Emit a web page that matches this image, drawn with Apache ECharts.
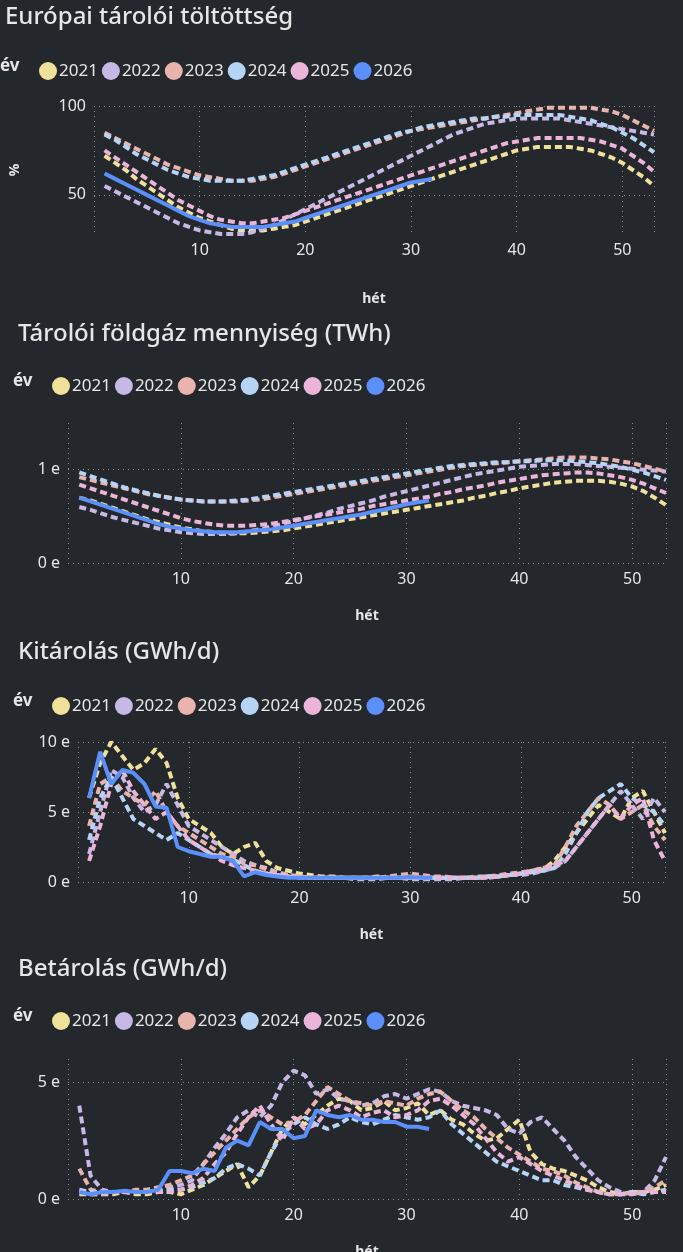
<!DOCTYPE html>
<html>
<head>
<meta charset="utf-8">
<script src="https://cdn.jsdelivr.net/npm/echarts@6/dist/echarts.min.js"></script>
<style>
  html, body { margin: 0; padding: 0; background: #24272c; overflow: hidden; }
  .box { position: absolute; left: 0; width: 683px; height: 318px; }
</style>
</head>
<body>
<div class="box" id="c1" style="top:0"></div>
<div class="box" id="c2" style="top:315px"></div>
<div class="box" id="c3" style="top:635px"></div>
<div class="box" id="c4" style="top:950px"></div>
<script>
const years = ["2021", "2022", "2023", "2024", "2025", "2026"];
const colors = ["#efe09a", "#c6b9e6", "#e8b4ad", "#b6d4f6", "#ebb5da", "#5b8ff9"];

// töltöttség %
const fill2021 = [72,68,64,59,55,51,47,43,40,37,35,33,31,30,30,30,31,32,33,35,37,39,41,43,45,47,49,51,53,55,57,59,61,63,65,67,69,71,73,75,76,77,77,77,77,76,75,73,71,68,64,60,55];
const fill2022 = [55,52,49,46,43,40,37,34,32,30,29,28,28,28,29,31,33,36,39,42,45,48,51,54,57,60,63,66,69,72,75,78,81,84,86,88,90,91,92,93,93,93,93,93,92,91,90,89,88,87,86,85,84];
const fill2023 = [85,82,79,76,73,70,67,65,63,61,60,59,58,58,58,59,60,62,64,66,68,70,72,74,76,78,80,82,84,86,87,88,89,90,91,92,93,94,95,96,97,98,99,99,99,99,99,98,97,95,92,89,86];
const fill2024 = [84,81,77,73,70,67,64,62,60,59,58,58,58,58,59,60,61,63,65,67,69,71,73,75,77,79,81,83,85,86,88,89,90,91,92,93,93,94,94,95,95,95,95,95,94,93,92,90,88,85,82,78,74];
const fill2025 = [75,71,67,63,59,55,51,47,44,41,38,36,35,34,34,35,36,37,39,41,43,45,47,49,51,53,55,57,59,61,63,65,67,69,71,73,75,77,79,80,81,82,82,82,82,82,81,80,78,76,72,68,63];
const fill2026 = [62,59,56,53,50,47,44,41,38,36,34,33,32,32,32,32,33,34,35,37,39,41,43,45,47,49,51,53,55,57,58,59];

// mennyiség (ezer TWh)
const stor2021 = [.70,.67,.63,.59,.55,.51,.47,.44,.41,.38,.36,.34,.33,.32,.32,.32,.33,.34,.35,.37,.39,.41,.43,.45,.47,.49,.51,.53,.55,.57,.59,.61,.63,.65,.67,.70,.72,.75,.77,.80,.82,.84,.86,.87,.88,.88,.88,.87,.85,.82,.77,.70,.62];
const stor2022 = [.60,.57,.53,.49,.46,.43,.40,.37,.35,.33,.32,.31,.31,.31,.32,.34,.36,.39,.42,.45,.48,.51,.54,.58,.61,.64,.67,.71,.74,.77,.80,.83,.86,.89,.92,.95,.97,.99,1.01,1.03,1.04,1.05,1.06,1.06,1.06,1.05,1.04,1.03,1.02,1.01,1.00,.99,.98];
const stor2023 = [.92,.89,.86,.83,.80,.77,.74,.72,.70,.68,.67,.66,.66,.66,.66,.67,.68,.70,.72,.74,.76,.78,.80,.82,.84,.86,.88,.90,.92,.94,.96,.98,1.00,1.02,1.04,1.05,1.06,1.07,1.08,1.09,1.10,1.11,1.12,1.13,1.13,1.13,1.12,1.11,1.09,1.07,1.04,1.01,.98];
const stor2024 = [.97,.93,.89,.85,.81,.78,.75,.72,.70,.68,.67,.66,.66,.66,.67,.68,.70,.72,.74,.76,.78,.80,.82,.84,.86,.88,.90,.92,.94,.96,.98,1.00,1.02,1.04,1.05,1.06,1.07,1.08,1.08,1.09,1.09,1.10,1.10,1.10,1.09,1.08,1.07,1.05,1.03,1.00,.97,.93,.89];
const stor2025 = [.84,.80,.76,.72,.68,.64,.60,.56,.52,.48,.45,.43,.41,.40,.40,.40,.41,.42,.44,.46,.48,.50,.52,.54,.56,.58,.61,.63,.65,.67,.69,.71,.74,.76,.79,.81,.83,.86,.88,.90,.92,.94,.95,.96,.97,.97,.96,.94,.92,.89,.85,.80,.75];
const stor2026 = [.70,.66,.62,.58,.54,.50,.46,.42,.39,.37,.35,.34,.33,.33,.33,.34,.35,.36,.38,.40,.42,.44,.46,.48,.50,.52,.55,.57,.60,.63,.65,.67];

// kitárolás (ezer GWh/d)
const out2021 = [6,8.5,10,9,8,8.5,9.5,8.5,6,4.5,4,3.5,2.5,2,2.5,2.8,1.5,1,.8,.6,.5,.4,.4,.3,.3,.3,.4,.3,.3,.4,.3,.3,.3,.3,.3,.3,.4,.4,.5,.6,.8,.9,1.5,2.5,3.5,4.5,5.5,5,4.5,6,6.5,5,3.5];
const out2022 = [2,5,8,7.5,6,5,5.5,7,5.5,4,3.5,3,2.5,2,1.5,1.2,1,.7,.5,.4,.3,.3,.3,.3,.2,.2,.2,.3,.3,.2,.2,.2,.2,.2,.3,.3,.3,.4,.5,.5,.6,.8,1,1.5,2.5,3.5,4.5,5.5,6.5,5.5,4.5,6,5];
const out2023 = [4,7,7.5,6.5,6,5.5,6.5,5,4,3.5,3,2.5,2,1.8,1.3,1.2,.9,.6,.5,.4,.3,.3,.3,.3,.3,.3,.3,.4,.5,.6,.5,.4,.4,.3,.3,.4,.4,.5,.6,.7,.8,1,1.2,2.5,4,5,6,5.5,4.5,5,5.5,4,3];
const out2024 = [3,6,7.5,6,4.5,4,3.5,3,3.5,3,2.5,2,1.8,1.6,1.2,.8,.6,.5,.4,.3,.3,.3,.3,.3,.3,.3,.3,.3,.3,.3,.3,.3,.3,.3,.3,.3,.4,.4,.5,.6,.7,.8,1,2,3.5,5,6,6.5,7,6,5.5,5,4];
const out2025 = [1.5,4,7,8,6.5,5.5,4.5,5,4,3,2.5,2,1.5,1.2,1,.8,.6,.5,.4,.4,.3,.3,.3,.3,.3,.3,.3,.3,.3,.3,.3,.3,.3,.3,.3,.3,.3,.4,.5,.6,.8,1,1.2,1.5,2.5,3.5,4.5,5.5,4.5,5.5,6,3,1.5];
const out2026 = [6,9.3,7,8,7.8,7,5.4,5.3,2.5,2.2,2,1.8,1.8,1.5,.4,.7,.5,.4,.3,.3,.3,.3,.3,.3,.3,.3,.3,.3,.3,.35,.3,.3];

// betárolás (ezer GWh/d)
const in2021 = [.2,.2,.2,.2,.3,.2,.2,.3,.3,.2,.4,.6,.9,1.2,1.5,.5,1,2,3,3.5,3.2,3.6,4,4.3,4.2,3.8,3.9,4.2,3.8,3.9,4.1,3.6,3.8,3.4,3.2,2.8,2.5,2.6,3,3.4,2,1.5,1.3,1.2,1,.8,.5,.3,.2,.3,.3,.4,.6];
const in2022 = [4,1,.4,.3,.3,.3,.3,.4,.5,.6,.8,1.5,2.2,2.8,3.5,3.8,3.5,4,5,5.5,5.3,4.5,4.7,4.3,4.2,4,4.1,4.4,4.5,4.3,4.5,4.7,4.6,4.2,4,3.9,3.8,3.6,3,2.8,3.3,3.5,3,2.5,1.8,1.3,.8,.5,.3,.2,.3,.8,1.8];
const in2023 = [1.3,.4,.3,.3,.3,.4,.4,.5,.6,.8,1,1.5,2,2.5,3,3.5,3.8,3.5,3.2,3.3,3.6,4.2,4.8,4.5,4.2,4.1,4,4.2,4.1,4,4.3,4.5,4.6,4.2,3.8,3.5,3,2.6,2.2,1.9,1.6,1.3,1.2,1,.7,.5,.3,.2,.2,.3,.3,.5,.8];
const in2024 = [.4,.3,.3,.3,.3,.3,.3,.3,.4,.4,.5,.7,.9,1.3,1.5,1.3,1,2,2.8,3.2,3.5,3.2,3,3.2,3.5,3.3,3.2,3.4,3.6,3.5,3.4,3.5,3.8,3.2,2.8,2.4,2,1.6,1.4,1.2,1,.8,.8,.6,.5,.4,.3,.2,.2,.3,.2,.3,.4];
const in2025 = [.3,.2,.2,.3,.3,.3,.3,.3,.3,.4,.6,.9,1.5,2,2.8,3.5,4,3.2,2.5,3.5,3,3.2,3.8,4,3.8,3.5,3.7,3.8,3.5,3.6,3.8,4.2,4.3,4,3.6,3.2,2.6,2,1.6,1.8,1.5,1.2,1,.8,.6,.4,.3,.2,.2,.2,.3,.3,.3];
const in2026 = [.3,.2,.3,.3,.35,.3,.3,.4,1.2,1.2,1.1,1.3,1.2,2.2,2.5,2.3,3.3,3,3,2.6,2.7,3.8,3.6,3.5,3.6,3.4,3.4,3.3,3.3,3.1,3.1,3.0];

const textColor = "#e6e6e6";
const gridLine = { show: true, lineStyle: { color: "#8a8d92", type: [1, 4], width: 1 } };

function makeChart(id, cfg) {
  const chart = echarts.init(document.getElementById(id));
  const series = cfg.data.map((arr, i) => ({
    name: years[i],
    type: "line",
    data: arr.map((v, w) => [w + 1, v]),
    symbol: "none",
    color: colors[i],
    lineStyle: { width: 4, type: i === 5 ? "solid" : [7, 4], color: colors[i] },
    z: i === 5 ? 10 : 2,
  }));
  chart.setOption({
    backgroundColor: "#24272c",
    textStyle: { fontFamily: "Noto Sans" },
    title: {
      text: cfg.title, left: cfg.titleLeft, top: cfg.titleTop,
      textStyle: { color: textColor, fontSize: 24, fontWeight: 500 },
    },
    graphic: [{
      type: "text", left: cfg.titleLeft, top: 58,
      style: { text: "év", fill: textColor, font: "bold 17px Noto Sans" },
    }],
    legend: {
      left: cfg.titleLeft + 34, top: 57, icon: "circle", itemWidth: 18, itemHeight: 18, itemGap: 4,
      textStyle: { color: textColor, fontSize: 17, padding: [0, 0, 0, -3] },
      data: years,
    },
    grid: { left: cfg.left, right: cfg.right, top: cfg.top, bottom: cfg.bottom },
    xAxis: {
      type: "value", min: 0, max: 53, interval: 10,
      name: "hét", nameLocation: "middle", nameGap: cfg.nameGap,
      nameTextStyle: { color: textColor, fontSize: 14, fontWeight: "bold" },
      axisLine: { show: false }, axisTick: { show: false },
      axisLabel: { color: textColor, fontSize: 16, showMinLabel: false, showMaxLabel: false },
      splitLine: gridLine,
    },
    yAxis: {
      type: "value", min: cfg.yMin, max: cfg.yMax,
      name: cfg.yName || "", nameLocation: "middle", nameGap: 72,
      nameTextStyle: { color: textColor, fontSize: 14, fontWeight: "bold" },
      axisLine: { show: false },
      axisTick: { show: false, customValues: cfg.ticks },
      axisLabel: { color: textColor, fontSize: 16, customValues: cfg.ticks, formatter: cfg.fmt },
      splitLine: gridLine,
    },
    series: series,
  });
}

const fmtE = v => v + " e";

makeChart("c1", {
  title: "Európai tárolói töltöttség", titleLeft: 0, titleTop: 0,
  data: [fill2021, fill2022, fill2023, fill2024, fill2025, fill2026],
  left: 91, right: 29, top: 106, bottom: 84, nameGap: 58,
  yMin: 28, yMax: 100, ticks: [50, 100], fmt: v => v, yName: "%",
});
makeChart("c2", {
  title: "Tárolói földgáz mennyiség (TWh)", titleLeft: 13, titleTop: 2,
  data: [stor2021, stor2022, stor2023, stor2024, stor2025, stor2026],
  left: 68, right: 17, top: 108, bottom: 70, nameGap: 46,
  yMin: 0, yMax: 1.5, ticks: [0, 1], fmt: fmtE,
});
makeChart("c3", {
  title: "Kitárolás (GWh/d)", titleLeft: 13, titleTop: 0,
  data: [out2021, out2022, out2023, out2024, out2025, out2026],
  left: 78, right: 18, top: 107, bottom: 71, nameGap: 46,
  yMin: 0, yMax: 10, ticks: [0, 5, 10], fmt: fmtE,
});
makeChart("c4", {
  title: "Betárolás (GWh/d)", titleLeft: 13, titleTop: 2,
  data: [in2021, in2022, in2023, in2024, in2025, in2026],
  left: 68, right: 17, top: 109, bottom: 69, nameGap: 46,
  yMin: 0, yMax: 6, ticks: [0, 5], fmt: fmtE,
});
</script>
</body>
</html>
